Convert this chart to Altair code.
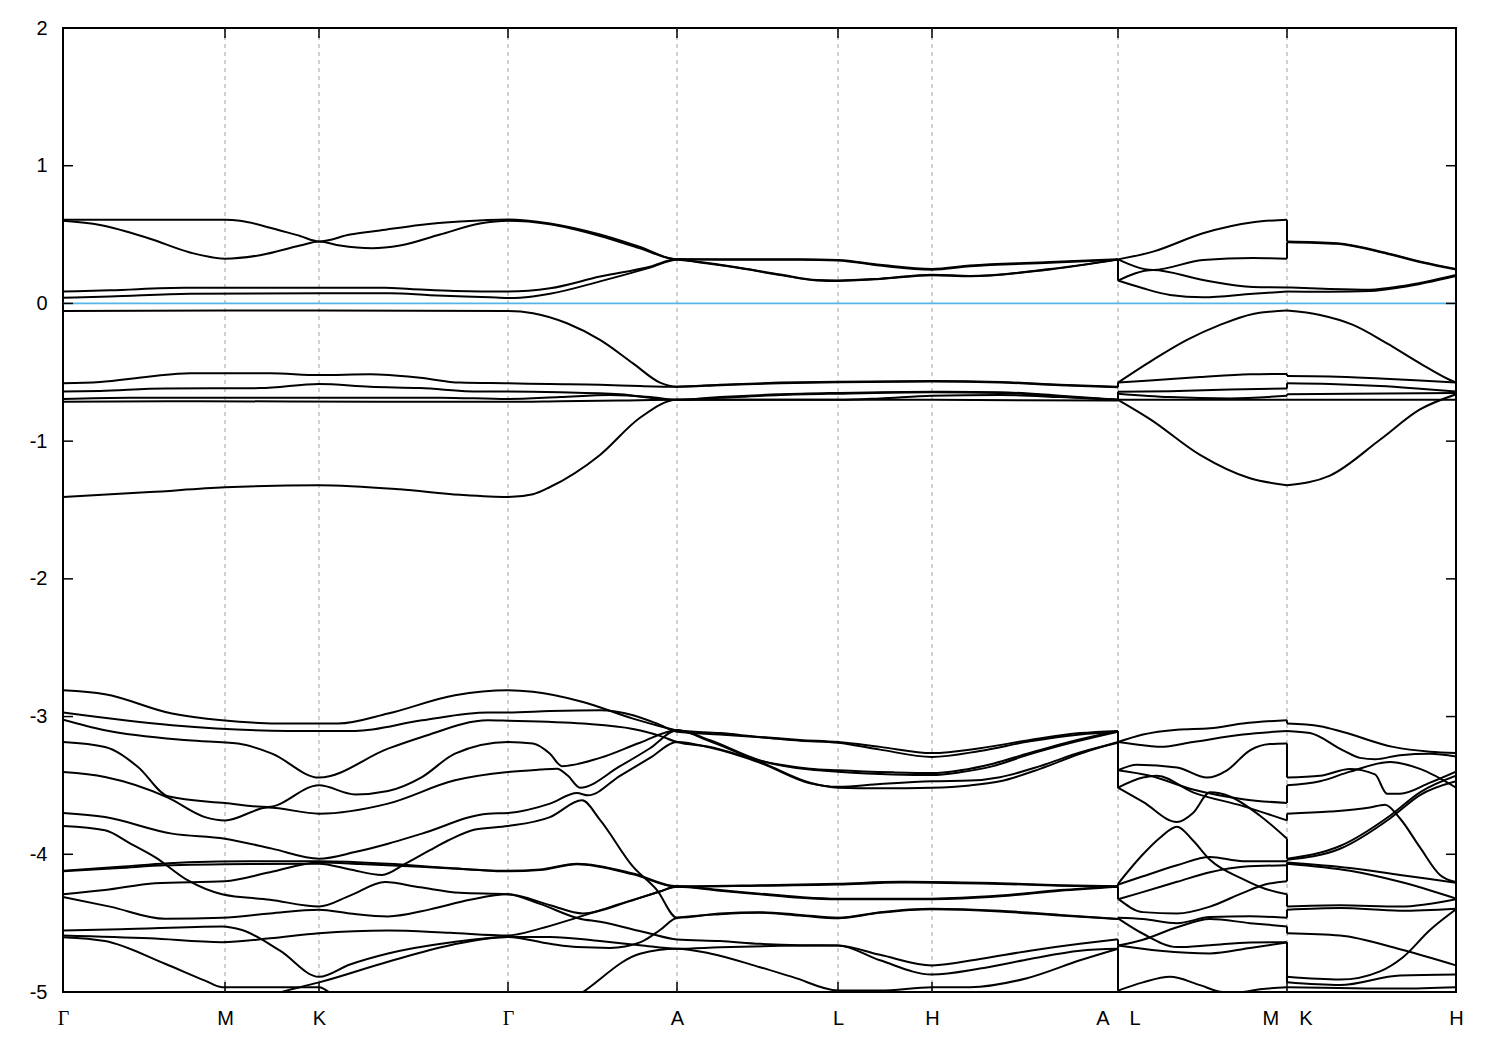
import altair as alt
import pandas as pd

# ---- k-path (distance units along the path) ----
KPOS = [0, 162, 256, 445, 614, 775, 869, 1055, 1224, 1393]
KLAB = ["Γ", "M", "K", "Γ", "A", "L", "H", "A\u2003L", "M\u2003K", "H"]
YTICKS = [-5, -4, -3, -2, -1, 0, 1, 2]
EF = 0.0

# ================= stretch 1 : Γ-M-K-Γ-A-L-H-A =================
R1 = [(0,0.607),(87,0.607),(162,0.607),(177,0.60),(207,0.55),(237,0.49),(256,0.45),(287,0.50),(317,0.53),(357,0.57),(397,0.595),(445,0.61),(487,0.58),(537,0.50),(577,0.41),(614,0.32),(657,0.32),(737,0.32),(775,0.315),(817,0.28),(869,0.25),(907,0.275),(987,0.30),(1055,0.32)]
R2 = [(0,0.60),(37,0.57),(87,0.47),(127,0.37),(162,0.325),(197,0.35),(237,0.42),(256,0.45),(277,0.42),(309,0.40),(337,0.42),(377,0.50),(417,0.58),(445,0.60),(487,0.575),(537,0.49),(577,0.40),(614,0.32),(657,0.318),(737,0.318),(775,0.312),(817,0.275),(869,0.245),(907,0.27),(987,0.295),(1055,0.318)]
R3 = [(0,0.086),(47,0.095),(122,0.113),(322,0.113),(347,0.105),(392,0.09),(445,0.086),(487,0.11),(537,0.195),(587,0.267),(614,0.32),(637,0.30),(670,0.267),(717,0.21),(754,0.17),(775,0.167),(817,0.18),(869,0.209),(907,0.20),(987,0.25),(1055,0.32)]
R4 = [(0,0.042),(47,0.05),(127,0.07),(327,0.074),(367,0.06),(427,0.045),(445,0.04),(457,0.042),(487,0.07),(537,0.16),(587,0.26),(614,0.318),(637,0.297),(670,0.264),(717,0.207),(754,0.167),(775,0.163),(817,0.177),(869,0.205),(907,0.197),(987,0.247),(1055,0.318)]
B1 = [(0,-0.055),(162,-0.052),(256,-0.052),(445,-0.055),(470,-0.071),(504,-0.144),(537,-0.265),(570,-0.435),(597,-0.575),(614,-0.605),(657,-0.59),(717,-0.575),(775,-0.568),(869,-0.563),(937,-0.57),(997,-0.59),(1055,-0.605)]
BA = [(0,-0.58),(37,-0.57),(87,-0.53),(127,-0.507),(207,-0.507),(256,-0.52),(307,-0.515),(357,-0.54),(397,-0.575),(445,-0.58),(487,-0.585),(537,-0.59),(577,-0.60),(614,-0.605),(657,-0.594),(717,-0.579),(775,-0.572),(869,-0.567),(937,-0.574),(997,-0.594),(1055,-0.608)]
BB = [(0,-0.64),(37,-0.635),(102,-0.617),(197,-0.615),(256,-0.585),(307,-0.605),(357,-0.615),(417,-0.64),(445,-0.64),(497,-0.645),(557,-0.66),(614,-0.70),(657,-0.68),(717,-0.66),(775,-0.65),(869,-0.641),(937,-0.645),(997,-0.67),(1055,-0.70)]
BC = [(0,-0.694),(67,-0.684),(377,-0.684),(445,-0.694),(497,-0.68),(547,-0.665),(587,-0.68),(614,-0.70),(657,-0.685),(717,-0.665),(775,-0.655),(869,-0.645),(937,-0.65),(997,-0.675),(1055,-0.70)]
BD = [(0,-0.714),(137,-0.71),(317,-0.714),(445,-0.714),(497,-0.71),(557,-0.705),(614,-0.70),(717,-0.70),(775,-0.70),(817,-0.69),(869,-0.67),(937,-0.665),(997,-0.68),(1055,-0.70)]
BE = [(0,-1.406),(87,-1.37),(162,-1.335),(256,-1.32),(337,-1.35),(397,-1.39),(445,-1.406),(470,-1.385),(487,-1.333),(537,-1.10),(577,-0.83),(614,-0.70),(775,-0.70),(869,-0.70),(1055,-0.705)]
C1 = [(0,-2.809),(42,-2.838),(109,-2.978),(159,-3.027),(225,-3.051),(275,-3.051),(325,-2.978),(392,-2.845),(445,-2.809),(470,-2.82),(520,-2.894),(570,-3.015),(597,-3.07),(614,-3.10),(657,-3.12),(697,-3.148),(737,-3.17),(775,-3.185),(817,-3.22),(869,-3.265),(917,-3.23),(967,-3.17),(1017,-3.12),(1055,-3.104)]
C2 = [(0,-2.971),(109,-3.063),(225,-3.104),(292,-3.104),(359,-3.027),(425,-2.971),(445,-2.971),(487,-2.96),(537,-2.954),(570,-2.99),(597,-3.06),(614,-3.11),(657,-3.13),(697,-3.15),(737,-3.175),(775,-3.19),(817,-3.24),(869,-3.293),(917,-3.25),(967,-3.18),(1017,-3.13),(1055,-3.11)]
C3 = [(0,-3.022),(42,-3.099),(125,-3.172),(175,-3.196),(209,-3.269),(256,-3.443),(325,-3.233),(359,-3.148),(425,-3.027),(445,-3.03),(520,-3.051),(570,-3.09),(597,-3.14),(614,-3.185),(647,-3.22),(697,-3.33),(747,-3.48),(775,-3.516),(817,-3.52),(869,-3.516),(907,-3.50),(937,-3.47),(977,-3.38),(1017,-3.27),(1055,-3.185)]
C4 = [(0,-3.185),(42,-3.221),(75,-3.366),(105,-3.579),(162,-3.628),(205,-3.657),(256,-3.499),(292,-3.565),(325,-3.54),(359,-3.439),(392,-3.269),(445,-3.185),(470,-3.196),(487,-3.27),(499,-3.36),(537,-3.30),(577,-3.19),(614,-3.10),(647,-3.172),(697,-3.318),(747,-3.378),(775,-3.39),(830,-3.405),(869,-3.41),(897,-3.39),(930,-3.342),(964,-3.27),(1014,-3.17),(1055,-3.104)]
C5 = [(0,-3.403),(42,-3.439),(105,-3.589),(142,-3.73),(162,-3.754),(205,-3.661),(256,-3.705),(325,-3.632),(392,-3.463),(445,-3.403),(477,-3.385),(494,-3.378),(505,-3.43),(517,-3.516),(557,-3.36),(587,-3.23),(614,-3.10),(647,-3.18),(697,-3.32),(747,-3.385),(775,-3.40),(830,-3.42),(869,-3.425),(897,-3.405),(930,-3.36),(964,-3.28),(1014,-3.18),(1055,-3.11)]
C6 = [(0,-3.70),(42,-3.73),(109,-3.85),(162,-3.887),(209,-3.959),(256,-4.032),(292,-3.984),(325,-3.923),(359,-3.85),(425,-3.705),(445,-3.70),(487,-3.632),(514,-3.555),(525,-3.572),(557,-3.43),(587,-3.30),(614,-3.185),(647,-3.225),(697,-3.335),(747,-3.485),(775,-3.51),(817,-3.49),(869,-3.47),(907,-3.465),(937,-3.44),(977,-3.36),(1017,-3.26),(1055,-3.19)]
C7 = [(0,-3.795),(42,-3.826),(67,-3.92),(92,-4.02),(125,-4.19),(159,-4.29),(207,-4.33),(256,-4.379),(287,-4.30),(322,-4.202),(357,-4.24),(397,-4.28),(445,-4.29),(477,-4.36),(517,-4.468),(537,-4.49),(584,-4.57),(614,-4.618),(657,-4.63),(697,-4.65),(737,-4.66),(775,-4.662),(817,-4.73),(869,-4.807),(917,-4.76),(967,-4.70),(1017,-4.65),(1055,-4.618)]
C8 = [(0,-4.12),(57,-4.09),(125,-4.057),(187,-4.05),(256,-4.05),(325,-4.068),(387,-4.10),(445,-4.12),(477,-4.11),(514,-4.068),(570,-4.14),(614,-4.233),(697,-4.225),(775,-4.214),(837,-4.20),(869,-4.202),(937,-4.21),(997,-4.225),(1055,-4.233)]
C9 = [(0,-4.124),(57,-4.10),(102,-4.08),(187,-4.07),(256,-4.068),(287,-4.11),(319,-4.15),(342,-4.07),(367,-3.97),(385,-3.90),(412,-3.82),(445,-3.795),(487,-3.73),(519,-3.608),(537,-3.75),(570,-4.09),(594,-4.26),(614,-4.461),(657,-4.43),(697,-4.42),(737,-4.44),(775,-4.461),(817,-4.42),(869,-4.395),(937,-4.41),(997,-4.44),(1055,-4.47)]
C10 = [(0,-4.29),(42,-4.26),(92,-4.21),(162,-4.195),(207,-4.13),(256,-4.06),(297,-4.07),(357,-4.09),(407,-4.11),(445,-4.124),(477,-4.115),(514,-4.072),(570,-4.145),(614,-4.236),(697,-4.228),(775,-4.22),(837,-4.205),(869,-4.206),(937,-4.215),(997,-4.228),(1055,-4.236)]
C11 = [(0,-4.311),(47,-4.38),(102,-4.468),(159,-4.461),(207,-4.43),(256,-4.403),(287,-4.43),(325,-4.451),(367,-4.40),(407,-4.33),(445,-4.29),(487,-4.37),(520,-4.43),(567,-4.34),(597,-4.27),(614,-4.235),(657,-4.265),(697,-4.29),(737,-4.315),(775,-4.326),(869,-4.326),(937,-4.305),(997,-4.265),(1055,-4.236)]
P1 = [(0,-4.553),(57,-4.545),(159,-4.524),(179,-4.55),(217,-4.70),(256,-4.89),(287,-4.80),(325,-4.72),(387,-4.64),(445,-4.60),(487,-4.65),(514,-4.674),(547,-4.68),(577,-4.64),(597,-4.55),(614,-4.461),(657,-4.435),(697,-4.425),(737,-4.445),(775,-4.465),(817,-4.425),(869,-4.40),(937,-4.415),(997,-4.445),(1055,-4.47)]
P2 = [(0,-4.589),(87,-4.61),(159,-4.638),(207,-4.61),(256,-4.573),(325,-4.553),(387,-4.57),(445,-4.589),(477,-4.54),(514,-4.46),(557,-4.36),(597,-4.27),(614,-4.233),(657,-4.26),(697,-4.286),(737,-4.31),(775,-4.322),(869,-4.322),(937,-4.30),(997,-4.26),(1055,-4.233)]
P3 = [(0,-4.602),(42,-4.63),(102,-4.795),(142,-4.917),(159,-4.965),(256,-4.965),(275,-5.05),(337,-5.2),(445,-5.3),(500,-5.1),(520,-5.0),(577,-4.722),(614,-4.686),(647,-4.72),(697,-4.82),(730,-4.892),(775,-4.989),(817,-4.99),(869,-4.965),(907,-4.965),(964,-4.90),(1017,-4.77),(1055,-4.686)]
P4 = [(0,-5.3),(150,-5.2),(202,-5.05),(219,-5.0),(237,-4.965),(256,-4.93),(325,-4.78),(387,-4.66),(445,-4.60),(487,-4.60),(537,-4.63),(577,-4.66),(614,-4.686),(657,-4.675),(717,-4.665),(775,-4.662),(817,-4.77),(869,-4.873),(917,-4.83),(967,-4.76),(1017,-4.70),(1055,-4.686)]

# ================= stretch 2 : L-M =================
S2_R1 = [(1055,0.32),(1090,0.376),(1140,0.51),(1190,0.59),(1224,0.607)]
S2_R2 = [(1055,0.32),(1090,0.243),(1140,0.316),(1190,0.33),(1224,0.325)]
S2_R3 = [(1055,0.166),(1090,0.243),(1140,0.17),(1190,0.12),(1224,0.116)]
S2_R4 = [(1055,0.166),(1080,0.11),(1107,0.062),(1140,0.045),(1190,0.07),(1224,0.086)]
S2_B1 = [(1055,-0.575),(1090,-0.41),(1124,-0.265),(1157,-0.156),(1190,-0.076),(1224,-0.052)]
S2_BA = [(1055,-0.575),(1087,-0.56),(1137,-0.535),(1187,-0.515),(1224,-0.512)]
S2_BB = [(1055,-0.641),(1107,-0.637),(1167,-0.625),(1224,-0.617)]
S2_BC = [(1055,-0.655),(1107,-0.68),(1167,-0.69),(1224,-0.67)]
S2_BD = [(1055,-0.70),(1140,-0.70),(1224,-0.70)]
S2_BE = [(1055,-0.70),(1087,-0.84),(1137,-1.10),(1187,-1.27),(1224,-1.32)]
M1 = [(1055,-3.185),(1080,-3.13),(1114,-3.095),(1147,-3.085),(1180,-3.05),(1224,-3.027)]
M2 = [(1055,-3.185),(1080,-3.209),(1097,-3.22),(1130,-3.185),(1180,-3.13),(1224,-3.104)]
M3 = [(1055,-3.39),(1074,-3.35),(1114,-3.37),(1144,-3.443),(1164,-3.39),(1187,-3.245),(1207,-3.20),(1224,-3.196)]
M4 = [(1055,-3.39),(1087,-3.43),(1130,-3.53),(1180,-3.60),(1224,-3.628)]
M5 = [(1055,-3.516),(1080,-3.443),(1094,-3.43),(1130,-3.55),(1180,-3.65),(1224,-3.754)]
M6 = [(1055,-3.516),(1080,-3.62),(1114,-3.766),(1130,-3.70),(1147,-3.55),(1167,-3.58),(1197,-3.72),(1224,-3.887)]
N1 = [(1055,-4.214),(1080,-4.00),(1097,-3.88),(1114,-3.80),(1130,-3.90),(1147,-4.04),(1180,-4.18),(1202,-4.25),(1224,-4.29)]
N2 = [(1055,-4.22),(1080,-4.16),(1114,-4.08),(1147,-4.02),(1180,-4.05),(1224,-4.05)]
N3 = [(1055,-4.322),(1080,-4.42),(1114,-4.43),(1147,-4.38),(1180,-4.28),(1202,-4.22),(1224,-4.195)]
N4 = [(1055,-4.326),(1077,-4.28),(1114,-4.20),(1147,-4.13),(1180,-4.09),(1224,-4.08)]
N5 = [(1055,-4.461),(1080,-4.47),(1114,-4.50),(1147,-4.456),(1187,-4.45),(1224,-4.461)]
N6 = [(1055,-4.465),(1080,-4.577),(1114,-4.674),(1147,-4.66),(1187,-4.64),(1224,-4.638)]
N7 = [(1055,-4.662),(1080,-4.62),(1114,-4.53),(1147,-4.47),(1187,-4.50),(1224,-4.524)]
N8 = [(1055,-4.662),(1097,-4.70),(1147,-4.72),(1187,-4.68),(1224,-4.64)]
N9 = [(1055,-4.99),(1080,-4.93),(1107,-4.89),(1137,-4.95),(1160,-5.0),(1177,-5.0),(1197,-4.98),(1224,-4.965)]

# ================= stretch 3 : K-H =================
S3_R1 = [(1224,0.449),(1274,0.437),(1324,0.365),(1360,0.30),(1393,0.25)]
S3_R2 = [(1224,0.445),(1274,0.433),(1324,0.361),(1360,0.296),(1393,0.246)]
S3_R3 = [(1224,0.116),(1267,0.105),(1307,0.10),(1340,0.127),(1393,0.207)]
S3_R4 = [(1224,0.086),(1267,0.085),(1307,0.09),(1340,0.12),(1393,0.20)]
S3_B1 = [(1224,-0.052),(1257,-0.084),(1290,-0.156),(1324,-0.29),(1357,-0.435),(1387,-0.556),(1393,-0.575)]
S3_BA = [(1224,-0.527),(1267,-0.53),(1317,-0.545),(1357,-0.56),(1393,-0.575)]
S3_BB = [(1224,-0.58),(1267,-0.585),(1317,-0.60),(1357,-0.62),(1393,-0.64)]
S3_BC = [(1224,-0.66),(1287,-0.655),(1393,-0.65)]
S3_BD = [(1224,-0.70),(1300,-0.70),(1393,-0.70)]
S3_BE = [(1224,-1.32),(1267,-1.25),(1317,-0.99),(1357,-0.77),(1393,-0.66)]
K1 = [(1224,-3.051),(1257,-3.07),(1280,-3.112),(1330,-3.22),(1367,-3.255),(1393,-3.264)]
K2 = [(1224,-3.104),(1247,-3.12),(1280,-3.245),(1297,-3.30),(1312,-3.31),(1337,-3.28),(1367,-3.27),(1393,-3.29)]
K3 = [(1224,-3.443),(1257,-3.43),(1287,-3.38),(1312,-3.42),(1324,-3.56),(1337,-3.56),(1367,-3.48),(1393,-3.40)]
K4 = [(1224,-3.499),(1257,-3.47),(1287,-3.40),(1327,-3.33),(1357,-3.38),(1393,-3.516)]
K5 = [(1224,-3.705),(1267,-3.69),(1307,-3.66),(1322,-3.64),(1337,-3.74),(1357,-3.95),(1377,-4.15),(1393,-4.202)]
K6 = [(1224,-4.032),(1277,-3.94),(1327,-3.72),(1357,-3.55),(1393,-3.43)]
K7 = [(1224,-4.04),(1277,-3.96),(1327,-3.74),(1357,-3.57),(1393,-3.47)]
K8 = [(1224,-4.06),(1287,-4.10),(1337,-4.15),(1393,-4.206)]
K9 = [(1224,-4.068),(1287,-4.12),(1337,-4.20),(1393,-4.322)]
K10 = [(1224,-4.379),(1277,-4.37),(1337,-4.38),(1393,-4.326)]
K11 = [(1224,-4.403),(1277,-4.39),(1337,-4.41),(1393,-4.395)]
K12 = [(1224,-4.573),(1277,-4.59),(1337,-4.69),(1393,-4.807)]
K13 = [(1224,-4.89),(1277,-4.91),(1317,-4.85),(1340,-4.747),(1367,-4.55),(1393,-4.40)]
K14 = [(1224,-4.93),(1277,-4.95),(1337,-4.88),(1393,-4.873)]
K15 = [(1224,-4.965),(1337,-4.975),(1393,-4.965)]

STRETCH1 = [R1, R2, R3, R4, B1, BA, BB, BC, BD, BE, C1, C2, C3, C4, C5, C6, C7, C8, C9, C10, C11, P1, P2, P3, P4]
STRETCH2 = [S2_R1, S2_R2, S2_R3, S2_R4, S2_B1, S2_BA, S2_BB, S2_BC, S2_BD, S2_BE, M1, M2, M3, M4, M5, M6, N1, N2, N3, N4, N5, N6, N7, N8, N9]
STRETCH3 = [S3_R1, S3_R2, S3_R3, S3_R4, S3_B1, S3_BA, S3_BB, S3_BC, S3_BD, S3_BE, K1, K2, K3, K4, K5, K6, K7, K8, K9, K10, K11, K12, K13, K14, K15]

# ---- build tables ----
rows = []
for s, stretch in enumerate([STRETCH1, STRETCH2, STRETCH3]):
    for c, curve in enumerate(stretch):
        for i, (k, e) in enumerate(curve):
            rows.append({"curve": f"{s}-{c}", "seq": i, "k": k, "E": e})
bands = pd.DataFrame(rows)

# band-energy ordering decides the vertical connections at the two jumps
jumps = []
for left, right in [(STRETCH1, STRETCH2), (STRETCH2, STRETCH3)]:
    ends = sorted(c[-1][1] for c in left)
    starts = sorted(c[0][1] for c in right)
    kj = left[0][-1][0]
    for a, b in zip(ends, starts):
        if abs(a - b) > 1e-9:
            jumps.append({"k": kj, "E": a, "E2": b})
jumps = pd.DataFrame(jumps)

W, H = 1393, 964
xs = alt.Scale(domain=[0, 1393], nice=False, zero=False)
ys = alt.Scale(domain=[-5, 2], nice=False, zero=False)

label_expr = " : ".join(
    f"datum.value == {k} ? '{l}'" for k, l in zip(KPOS, KLAB)
) + " : ''"
gamma_test = " || ".join(f"datum.value == {k}" for k, l in zip(KPOS, KLAB) if l == "Γ")

XAX = alt.Axis(values=KPOS, labelExpr=label_expr, title=None, grid=False,
               ticks=False, tickSize=0, domain=False, labelPadding=16,
               labelFontSize=20, labelColor="black", labelOverlap=False,
               labelFlush=False, labelBound=False,
               labelFont={"condition": {"test": gamma_test, "value": "Liberation Serif"},
                          "value": "Liberation Sans"})
YAX = alt.Axis(values=YTICKS, labelExpr="'' + datum.value", title=None, grid=False,
               ticks=False, tickSize=0, domain=False, labelPadding=16,
               labelFontSize=20, labelColor="black", labelFont="Liberation Sans")

kdf = pd.DataFrame({"k": KPOS, "lab": KLAB})
inner = kdf.iloc[1:-1]
ydf = pd.DataFrame({"E": YTICKS})

def X(field="k:Q"):
    return alt.X(field, scale=xs, axis=XAX)

def Y(field="E:Q"):
    return alt.Y(field, scale=ys, axis=YAX)

grid = alt.Chart(inner).mark_rule(color="#a0a0a0", strokeDash=[4, 4], strokeWidth=1).encode(
    x=X(), y=alt.value(0), y2=alt.value(H))

fermi = alt.Chart(pd.DataFrame({"E": [EF]})).mark_rule(color="#56b4e9", strokeWidth=1.8).encode(
    y=Y(), x=alt.value(0), x2=alt.value(W))

lines = alt.Chart(bands).mark_line(color="black", strokeWidth=2, clip=True,
                                   interpolate="monotone").encode(
    x=X(), y=Y(), detail="curve:N", order=alt.Order("seq:Q"))

jump = alt.Chart(jumps).mark_rule(color="black", strokeWidth=2, clip=True).encode(
    x=X(), y=Y(), y2="E2:Q")

ytick_l = alt.Chart(ydf).mark_rule(color="black", strokeWidth=1.5).encode(
    y=Y(), x=alt.value(0), x2=alt.value(10))
ytick_r = alt.Chart(ydf).mark_rule(color="black", strokeWidth=1.5).encode(
    y=Y(), x=alt.value(W - 10), x2=alt.value(W))
xtick_b = alt.Chart(kdf).mark_rule(color="black", strokeWidth=1.5).encode(
    x=X(), y=alt.value(H - 10), y2=alt.value(H))
xtick_t = alt.Chart(kdf).mark_rule(color="black", strokeWidth=1.5).encode(
    x=X(), y=alt.value(0), y2=alt.value(10))

chart = alt.layer(grid, fermi, lines, jump, ytick_l, ytick_r, xtick_b, xtick_t).properties(
    width=W, height=H,
    autosize=alt.AutoSizeParams(type="none"),
    padding={"left": 55, "top": 20, "right": 36, "bottom": 50},
    background="white",
).configure_view(stroke="black", strokeWidth=2)

chart.save("out.html", embed_options={"renderer": "svg", "actions": False})
